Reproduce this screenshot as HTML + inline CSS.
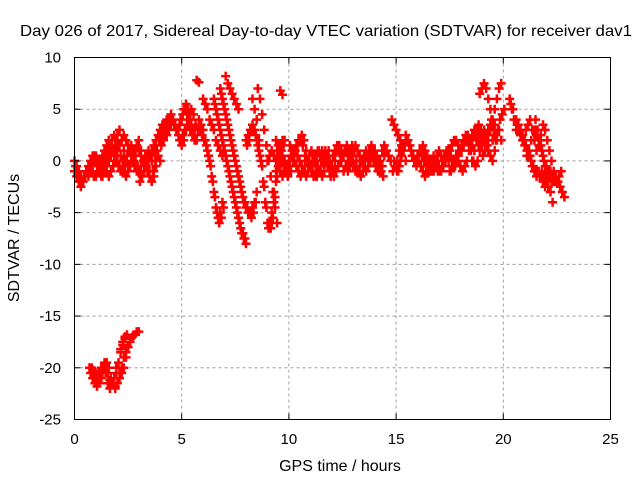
<!DOCTYPE html>
<html><head><meta charset="utf-8"><style>
body{margin:0;background:#fff}
svg{display:block;font-family:"Liberation Sans",sans-serif}
</style></head><body>
<svg id="chart" width="640" height="480" viewBox="0 0 640 480">
<rect width="640" height="480" fill="#fff"/>
<g id="grid"></g>
<g id="marks"></g>
<rect x="74.5" y="57.5" width="536" height="362" fill="none" stroke="#000" stroke-width="1"/>
<g id="ticks"></g>
<text x="20" y="36" font-size="16" textLength="612" lengthAdjust="spacingAndGlyphs">Day 026 of 2017, Sidereal Day-to-day VTEC variation (SDTVAR) for receiver dav1</text>
<text x="340" y="471" font-size="16" text-anchor="middle">GPS time / hours</text>
<text transform="translate(19,238) rotate(-90)" font-size="16" text-anchor="middle">SDTVAR / TECUs</text>
</svg>
<script>
const xTicks=[0,5,10,15,20,25];
const yTicks=[10,5,0,-5,-10,-15,-20,-25];
const arcStarts=[0,0,1.2,3.6,3.8,5.8,6.5,6.8,6.0,8.3,8.0,9.4,9.0,11.0,11.5,13.1,14.8,14.9,16.2,17.5,17.8,18.9,19.3,20.3,20.6,21.5,0.7,0.8,5.7,9.6,
0.05,0.55,3.65,4.05,5.85,6.55,6.85,8.05,9.45,10.05,11.05,12.05,13.55,15.05,16.05,17.05,18.05,18.55,20.35,21.05,21.55,0.75,0.85,7.05,8.55];
const arcValues=[
[0,-0.5,-1,-1.5,-2,-1.5,-1,-0.5,0,0.5,0.5,0,-0.5,-1,-1,-0.5,0,0.5,1,1.5,2.5,3,2,1,0,-0.5,-0.5,0,0.5,1.5,2,1,0,-0.5,-1,-1.5,-2,-1,0,0.5,0],
[-1,-1.5,-2,-2.5,-2,-1.5,-1,-1,-1,-1.5,-1.5,-1,-1,-1.5,-1,-1,-1.5,-1,-0.5,0,0,-0.5,-1,-1,-1.5,-1,-0.5,0,-0.5,-1,-1,-0.5,0,0.5,0,-1,-2,-1.5,-0.5],
[0,0.5,1,1.5,2,1.5,1,0.5,1,1.5,2,2.5,2,1.5,1,0.5,1,1.5,1,0.5,0,-0.5,0,0.5,1,1.5,1,0.5],
[0,1,2,2.5,3,3.5,3.5,4,4,4.5,4,3.5,3,3.5,4,5,5.5,5,4,3,2.5,2],
[2,2.5,3,3.5,3,2.5,3,3.5,4,3.5,3,2,1.5,2,3,3.5,3,2.5,2],
[4,3.5,3,2,1,0,-1.5,-3,-4.5,-5.5,-5,-4],
[6,5,4,3,2,1,0,-1,-2,-3,-4,-5,-6,-7,-7.5,-8],
[7,6,5,4,3,2,1,0,-1,-2,-3,-4,-4.5,-5,-5,-4.5,-4,-3],
[6,5.5,5,4,3.5,3,2,1.5,1,0.5],
[6,5,4,2,0,-2,-4,-6,-6.5,-6,-4,-2,0,1,2,2],
[2,2.5,3,3.5,3,2,1,0,-2,-4,-6,-6,-5,-3,-1,0.5,1.5,2],
[2,1.5,1,0.5,0,-0.5,-1,-1,0,1,1.5,2,2.5,2,1,0,-0.5,-1,0,0.5,1,0.5,0],
[0,0.5,1,0.5,0,-0.5,-1,-1.5,-1,-0.5,0,0.5,1,1,0.5,0,-0.5,-1,-1.5,-1,-0.5,0,0.5,0],
[-0.5,-1,-1.5,-1.5,-1,-0.5,0,0,-0.5,-1,-1,-1.5,-1,-0.5,0,0.5,1,1,0.5,0,-0.5,-1,-1,-0.5,0,0.5,1,0.5,0],
[0,0.5,1,0.5,0,-0.5,-1,-1,-0.5,0,0.5,1,1.5,1,0.5,0,-0.5],
[1.5,1,0.5,0,-0.5,-1,-0.5,0,0.5,1,0.5,0,-1,-1.5],
[4,3.5,3,2.5,2,1.5],
[0,-0.5,-1,0,1,1.5,2,1.5,1,0.5,0,0.5,1,0.5,0,-0.5,-1,-1,-0.5,0,0.5,1,0.5],
[1,0.5,0,-0.5,-1,-1,-0.5,0,-0.5,-1,-0.5,0,0.5,1,1.5,2,2,1.5,1],
[-1,-0.5,0,0.5,0,-0.5,-1,-0.5,0,1,2,2.5,3,2.5,2,1.5,2,2.5,3,3.5,2],
[0,0.5,1,1.5,2,2.5,1.5,1,0,-0.5,0,1,2,3,2,1,0.5,0,1,2,3,2],
[6.5,7,7.5,7,6,5,4,3.5],
[2,3,4,5,6,7,7.5],
[6,5,4,3,3,2.5,2,1.5,1,0.5,0,-0.5,-1,-1,-1.5,-1,-1.5,-2,-2.5,-3,-4],
[4,3.5,3,2.5,2,0.5,1,2,3,4,3,2,1,0,-0.5,-1,-1.5,-2],
[3,2.5,2,1,0,-1,-1.5,-1,-1.5,-2,-2,-1.5,-1],
[-20,-20.5,-21,-21.5,-21.5,-21,-20,-19.5,-19.5,-20,-21,-21.5,-22,-21.5,-21,-20.5,-20,-19,-18,-17.5,-17,-16.8,-16.5,-16.5],
[-20,-20.3,-21,-21.2,-21,-20.5,-20,-19.5,-20,-21,-21.5,-21.8,-21.5,-20.5,-20,-19,-18.5,-18,-17.2,-17],
[7.8,7.6],
[6.8,6.4],
[-0.5,-1,-1.5,-2,-1.5,-1,-0.5,0,0.5,0,-0.5,-1,-0.5,0,0.5,1,1.5,2,2.5,2,1.5,0.5,0,-0.5,0,1,1.5,1,0.5,-0.5,-1,-1.5,-1,-0.5,0,0.5],
[-1,-1.5,-1,-0.5,0,-0.5,-1,-1.5,-1,-0.5,0,0.5,1,0.5,0,-0.5,-1,-0.5,0,0.5,1,0.5,0,-0.5,-1,-2,-1.5,-0.5,0.5,1,0.5],
[-1,0,1,2,2.5,3,3,3.5,4,4,3.5,3,3,4,4.5,5,4.5,4,3.5,3],
[1.5,2,2.5,3,3.5,4,3.5,3,2.5,2,2.5,3,3.5,4.5,5,4.5,3.5,3],
[3,2.5,2,1.5,0.5,-0.5,-2,-3.5,-5,-6,-5.5,-4.5],
[5.5,4.5,3.5,2.5,1.5,0.5,-0.5,-1.5,-2.5,-3.5,-4.5,-5.5,-6.5,-7,-7.5],
[6.5,5.5,4.5,3.5,2.5,1.5,0.5,-0.5,-1.5,-2.5,-3.5,-4,-4.5,-5,-5.5,-5,-4],
[1.5,2,3,3,2.5,1.5,0.5,-0.5,-2.5,-4.5,-6.5,-6.5,-5.5,-3.5,-1.5,0,1,1.5],
[1,0.5,0,-0.5,-1,-1.5,-0.5,0.5,1,1.5,2,2,1.5,0.5,0,-0.5,-0.5,0,0.5,1],
[1.5,1,0,-0.5,-1,-1.5,-1,-0.5,0,0.5,1,0.5,0,-0.5,-1,-1.5,-1,0,1],
[-1,-1.5,-1,-0.5,0.5,1,0.5,0,-0.5,-1.5,-1,0,1,1.5,1,0.5,-0.5,-1,-0.5,0.5],
[0.5,1,1.5,1,0,-1,-0.5,0,1,1.5,1,0,-1,-1.5,-1,0,0.5,1,0.5,0,-0.5,-1,0,1,1.5],
[0,0.5,1,1.5,1,0,-0.5,-1,-0.5,0.5,1,0.5,0,-1,-0.5,0,1,1.5,1,0],
[-1,-0.5,0.5,1.5,2.5,2,1.5,0.5,0,-0.5,0,1,1.5,1,0.5,0,-0.5,-1,-0.5,0.5],
[0,-0.5,-1,-1.5,-1,-0.5,0,0.5,-0.5,-1,-1,0,0.5,1,0,-1,-0.5,0,0.5,1],
[-1,-0.5,0,0.5,1,0.5,0,-0.5,0,1,1.5,2,2.5,2,1.5,2.5,3,2,1.5,2],
[1,1.5,2,2.5,2,1.5,2.5,3,3.5,3,2.5,2,1.5,3,4,3.5,2.5],
[0,1,2,2.5,1.5,0.5,1,2,3,3.5,2.5,2,3,4,4.5,5],
[5.5,5,4,3.5,3,2.5,2,1.5,1,0.5,-0.5,-1,-1.5,-1,-1.5,-2,-2.5,-2,-1.5],
[3,3.5,4,3,2,1,1.5,2.5,3.5,3,2,1,0,-1,-1.5,-2,-2.5],
[2.5,2,1.5,0.5,-0.5,-1,-1.5,-2,-2,-1.5,-2,-2.5,-3,-3.5],
[-20.5,-21,-21.5,-21,-20.5,-20,-20,-20.5,-21.5,-22,-21.5,-21,-20.5,-19.5,-18.5,-17.8,-17.2,-16.8],
[-20.2,-21,-21.8,-21.5,-21,-20,-19.5,-20.5,-21.2,-21.5,-21,-20,-19.5,-18.2,-17.5,-17],
[8.2,7.5,7,6.5,6,5.5,5],
[7,6,4.5,3,1.5,0,-1.5,-3,-4.5,-6]
];
const timeStep=0.1;
const NS='http://www.w3.org/2000/svg';
const L=74.5,R=610.5,T=57.5,B=419.5;
function sx(t){return L+(t-0)/(25-0)*(R-L);}
function sy(v){return T+(10-v)/(10-(-25))*(B-T);}
const grid=document.getElementById('grid'),ticks=document.getElementById('ticks'),marks=document.getElementById('marks');
function line(g,x1,y1,x2,y2,attrs){const l=document.createElementNS(NS,'line');l.setAttribute('x1',x1);l.setAttribute('y1',y1);l.setAttribute('x2',x2);l.setAttribute('y2',y2);for(const k in attrs)l.setAttribute(k,attrs[k]);g.appendChild(l);return l;}
xTicks.forEach(t=>{
 const x=sx(t);
 if(t>0&&t<25){const gl=line(grid,x,T,x,B,{stroke:'#a0a0a0','stroke-dasharray':'3,3'});
 
 }
 line(ticks,x,B,x,B-6,{stroke:'#000'});line(ticks,x,T,x,T+6,{stroke:'#000'});
 const tx=document.createElementNS(NS,'text');tx.setAttribute('x',x);tx.setAttribute('y',444);tx.setAttribute('font-size','15');tx.setAttribute('text-anchor','middle');tx.textContent=t;
 
 
 ticks.appendChild(tx);
});
yTicks.forEach(v=>{
 const y=sy(v);
 if(v<10&&v>-25){const gl=line(grid,L,y,R,y,{stroke:'#a0a0a0','stroke-dasharray':'3,3'});
 
 }
 line(ticks,L,y,L+6,y,{stroke:'#000'});line(ticks,R,y,R-6,y,{stroke:'#000'});
 const tx=document.createElementNS(NS,'text');tx.setAttribute('x',61);tx.setAttribute('y',y+5);tx.setAttribute('font-size','15');tx.setAttribute('text-anchor','end');tx.textContent=v;
 
 
 ticks.appendChild(tx);
});
let d='';
arcValues.forEach((vals,i)=>{
 vals.forEach((v,j)=>{
  const x=sx(arcStarts[i]+j*timeStep),y=sy(v);
  d+=`M${(x-4.5).toFixed(1)} ${y.toFixed(1)}h9M${x.toFixed(1)} ${(y-4.5).toFixed(1)}v9`;
 });
});
const p=document.createElementNS(NS,'path');
p.setAttribute('d',d);p.setAttribute('stroke','#ff0000');p.setAttribute('stroke-width','2.5');p.setAttribute('fill','none');


marks.appendChild(p);
</script>
</body></html>
